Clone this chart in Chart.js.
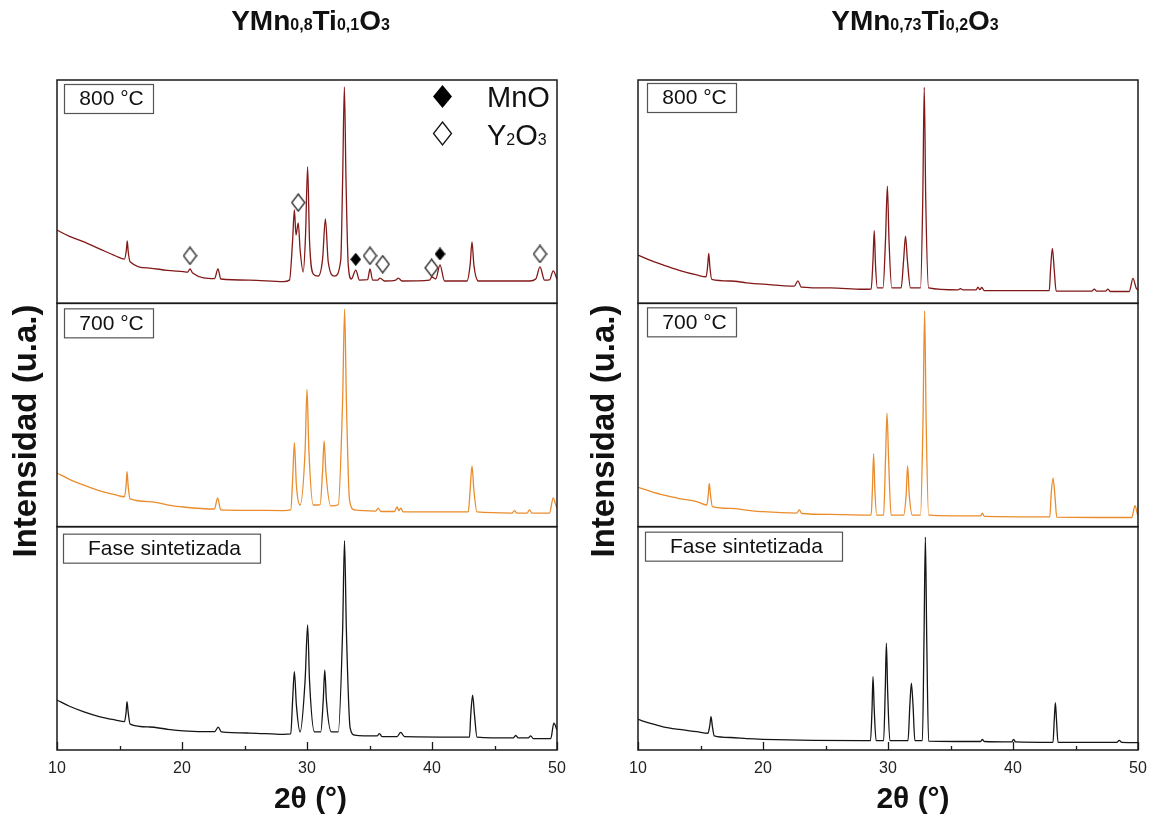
<!DOCTYPE html>
<html><head><meta charset="utf-8">
<script src="https://cdn.jsdelivr.net/npm/chart.js@4.4.1/dist/chart.umd.min.js"></script>
<style>
html,body{margin:0;padding:0;background:#fff;}
#wrap{position:relative;width:1157px;height:820px;overflow:hidden;}
canvas{position:absolute;top:0;}
</style></head><body>
<div id="wrap">
<canvas id="cL" width="580" height="820" style="left:0"></canvas>
<canvas id="cR" width="577" height="820" style="left:580px"></canvas>
</div>
<script>
// ================= DATA =================
const xMajorTicks = [10, 20, 30, 40, 50];
const xMinorTicks = [15, 25, 35, 45];
const panelLabels = ['800 °C', '700 °C', 'Fase sintetizada'];
const legendLabels = ['MnO', 'Y2O3'];
const axisLabelY = 'Intensidad (u.a.)';
const axisLabelX = '2θ (°)';
const titleLeft = [['YMn',0],['0,8',1],['Ti',0],['0,1',1],['O',0],['3',1]];
const titleRight = [['YMn',0],['0,73',1],['Ti',0],['0,2',1],['O',0],['3',1]];

// Left column: YMn0,8Ti0,1O3 — 800 °C
const A800_x = [10,11,12.1,13.4,14.7,15.4,15.55,15.62,15.7,15.85,17.4,18.8,20.1,20.45,20.64,20.85,22.6,22.88,23.1,25.4,28.1,28.6,28.85,28.99,29.12,29.3,29.45,29.7,29.88,30.05,30.2,30.5,30.9,31.25,31.47,31.7,32.2,32.7,32.85,32.99,33.12,33.3,33.55,33.9,34.2,34.85,35.04,35.25,35.65,35.84,36.2,37.1,37.3,37.6,39.8,40.0,40.3,40.64,41.0,42.8,43.05,43.2,43.35,43.7,47.8,48.3,48.64,49.0,49.4,49.7,50];
const A800_y = [32.8,30.0,27.6,24.4,21.2,19.8,23.9,27.9,23.0,18.6,15.8,14.8,14.2,14.0,15.4,13.6,11.1,15.4,10.9,10.4,9.7,10.4,28.3,41.8,30.6,36.0,23.9,14.0,30.0,61.1,28.3,13.1,12.2,20.0,37.8,18.5,12.2,19.4,55.2,96.9,55.2,17.2,10.9,14.9,10.4,10.6,15.4,10.4,10.4,11.3,10.0,10.4,11.3,10.0,10.4,11.8,10.9,17.2,10.0,10.0,17.2,27.5,17.2,10.0,10.0,10.9,16.3,10.4,10.5,14.5,10.9];
// 700 °C
const A700_x = [10,11,12.1,13.3,14.7,15.4,15.53,15.6,15.7,15.85,17.4,18.8,20.1,22.6,22.85,23.1,25.4,28.1,28.7,28.85,28.99,29.15,29.45,29.85,30.0,30.15,30.5,31.05,31.25,31.37,31.5,31.9,32.5,32.85,33.01,33.15,33.4,33.8,35.5,35.7,35.9,37.0,37.2,37.35,37.5,37.7,42.9,43.05,43.2,43.35,43.6,46.4,46.6,46.8,47.6,47.8,48.0,49.4,49.7,49.9,50];
const A700_y = [24.0,21.2,18.7,16.3,14.2,13.4,18.7,24.6,17.8,12.4,11.2,9.8,8.8,7.9,12.9,7.5,7.3,7.2,7.5,20.9,37.6,18.7,9.7,34.3,61.5,34.3,9.7,9.8,25.4,38.4,25.4,9.3,9.8,56.7,97.4,56.7,12.0,7.5,7.0,8.3,6.8,6.8,8.8,7.2,8.3,6.6,6.6,16.4,27.2,16.4,6.6,6.1,7.2,6.1,6.1,7.5,6.1,6.1,12.9,9.7,8.4];
// Fase sintetizada
const AS_x = [10,11,12.1,13.3,14.7,15.4,15.53,15.6,15.7,15.85,17.4,18.8,20.1,22.6,22.9,23.15,25.4,28.1,28.7,28.85,28.99,29.15,29.45,29.85,30.05,30.2,30.6,31.1,31.3,31.42,31.55,31.95,32.5,32.85,33.0,33.15,33.45,33.8,35.6,35.8,36.0,37.2,37.5,37.8,43.0,43.1,43.25,43.4,43.6,46.5,46.7,46.9,47.7,47.9,48.1,49.5,49.75,50];
const AS_y = [22.4,19.6,17.2,15.1,13.4,12.7,17.0,21.6,16.6,11.6,10.3,9.3,8.6,8.2,10.2,8.1,7.6,7.0,7.2,22.4,35.1,20.2,8.1,31.3,56.0,31.3,8.1,8.1,22.4,35.8,22.4,8.1,8.1,53.7,93.7,53.7,9.9,6.7,6.3,7.3,6.0,6.0,7.9,6.0,5.8,15.7,24.6,15.7,5.8,5.4,6.5,5.4,5.4,6.3,5.1,5.1,12.0,9.0];

// Right column: YMn0,73Ti0,2O3 — 800 °C
const B800_x = [10,11,12.0,13.3,14.7,15.45,15.58,15.66,15.75,15.9,17.4,18.7,20.0,22.5,22.8,23.05,25.4,28.0,28.65,28.8,28.9,29.0,29.15,29.6,29.8,29.95,30.08,30.3,31.05,31.25,31.4,31.55,31.8,32.6,32.78,32.9,33.02,33.25,35.6,35.8,36.0,37.05,37.2,37.35,37.5,37.7,42.9,43.0,43.15,43.3,43.45,46.3,46.5,46.7,47.4,47.6,47.8,49.3,49.6,49.85,50];
const B800_y = [21.6,19.2,17.2,14.8,12.7,11.9,17.2,22.4,16.3,10.7,10.0,9.2,8.6,7.7,10.1,7.3,6.9,6.3,6.4,19.4,32.5,17.2,6.9,6.9,28.3,52.5,28.3,6.9,6.9,19.4,30.1,19.4,6.9,6.9,46.3,96.7,46.3,6.9,6.0,6.6,6.0,6.0,7.2,6.1,7.1,5.7,5.7,14.9,24.6,14.9,5.5,5.5,6.4,5.5,5.5,6.4,5.3,5.3,11.2,6.9,6.0];
// 700 °C
const B700_x = [10,11,12.0,13.3,14.7,15.5,15.62,15.7,15.8,15.95,17.4,18.7,20.0,22.7,22.9,23.1,25.4,28.0,28.65,28.75,28.85,28.95,29.1,29.65,29.8,29.92,30.05,30.25,31.25,31.45,31.57,31.7,31.95,32.6,32.8,32.93,33.05,33.25,37.4,37.55,37.7,42.95,43.05,43.2,43.35,43.5,49.5,49.76,49.95,50];
const B700_y = [17.6,15.8,14.2,12.6,11.2,9.7,14.2,19.4,14.2,9.0,8.2,7.4,6.7,6.1,7.5,5.9,5.5,5.2,5.2,16.4,32.6,16.4,5.2,5.2,29.9,50.8,29.9,5.2,5.2,14.2,27.2,14.2,5.2,5.2,47.8,96.6,47.8,5.2,4.8,6.0,4.6,4.4,14.2,21.7,14.2,4.3,4.1,9.4,5.7,4.8];
// Fase sintetizada
const BS_x = [10,11,12.0,13.3,14.7,15.6,15.75,15.84,15.95,16.1,17.4,18.7,20.0,24.0,28.0,28.6,28.72,28.8,28.9,29.05,29.65,29.78,29.87,29.97,30.15,31.6,31.75,31.87,32.0,32.15,32.75,32.88,32.99,33.1,33.25,37.4,37.55,37.7,39.9,40.05,40.2,43.2,43.3,43.39,43.48,43.6,48.3,48.5,48.7,50];
const BS_y = [13.7,11.9,10.4,9.2,8.2,7.5,11.2,14.9,10.6,6.3,5.6,5.1,4.8,4.3,4.2,4.2,17.9,32.8,17.9,4.2,4.2,26.9,47.8,26.9,4.2,4.2,20.2,29.9,20.2,4.2,4.2,49.3,95.3,49.3,4.0,3.8,4.7,3.8,3.6,4.8,3.6,3.4,13.4,21.2,13.4,3.4,3.4,4.3,3.4,3.3];

// Phase markers on left 800 °C pattern
const Y2O3_x = [20.64, 29.3, 35.04, 36.06, 39.97, 48.64];
const Y2O3_y = [21.3, 45.1, 21.3, 17.5, 15.9, 22.1];
const MnO_x = [33.9, 40.64];
const MnO_y = [19.7, 22.1];

// ================= RENDERING =================
const FONT = "'Liberation Sans', Arial, Helvetica, sans-serif";
const C800 = '#821818', C700 = '#ea8c2c', CS = '#151515';

function xy(xs, ys) { return xs.map((x, i) => ({x: x, y: ys[i]})); }

function diamondCanvas(w, h, fill, stroke) {
  const c = document.createElement('canvas');
  c.width = w; c.height = h;
  const g = c.getContext('2d');
  g.beginPath();
  g.moveTo(w / 2, 1); g.lineTo(w - 1, h / 2); g.lineTo(w / 2, h - 1); g.lineTo(1, h / 2); g.closePath();
  g.fillStyle = fill; g.fill();
  g.lineWidth = 1.4; g.strokeStyle = stroke; g.stroke();
  return c;
}
function diamondPath(ctx, cx, cy, hw, hh) {
  ctx.beginPath();
  ctx.moveTo(cx, cy - hh); ctx.lineTo(cx + hw, cy); ctx.lineTo(cx, cy + hh); ctx.lineTo(cx - hw, cy); ctx.closePath();
}
function richText(ctx, parts, x, y, align, big, small) {
  let w = 0;
  parts.forEach(p => { ctx.font = p[1] ? small : big; w += ctx.measureText(p[0]).width; });
  let cx = align === 'center' ? x - w / 2 : x;
  ctx.textAlign = 'left'; ctx.textBaseline = 'alphabetic';
  parts.forEach(p => { ctx.font = p[1] ? small : big; ctx.fillText(p[0], cx, y); cx += ctx.measureText(p[0]).width; });
}

function decorPlugin(cfg) {
  return {
    id: 'decor',
    afterDatasetsDraw(chart) {
      const ctx = chart.ctx;
      const ca = chart.chartArea;
      ctx.save();
      ctx.strokeStyle = '#1a1a1a'; ctx.lineWidth = 1.5;
      ['y8', 'y7', 'ys'].forEach(id => {
        const s = chart.scales[id];
        ctx.strokeRect(ca.left, s.top, ca.right - ca.left, s.bottom - s.top);
      });
      const xs = chart.scales.x;
      ctx.lineWidth = 1.3;
      ctx.beginPath();
      xMajorTicks.forEach(v => { const p = Math.round(xs.getPixelForValue(v)) + 0.5; ctx.moveTo(p, ca.bottom); ctx.lineTo(p, ca.bottom - 8); });
      xMinorTicks.forEach(v => { const p = Math.round(xs.getPixelForValue(v)) + 0.5; ctx.moveTo(p, ca.bottom); ctx.lineTo(p, ca.bottom - 4); });
      ctx.stroke();
      const ids = ['y8', 'y7', 'ys'];
      ids.forEach((id, i) => {
        const s = chart.scales[id];
        const bw = i === 2 ? 197 : 89;
        const bx = ca.left + cfg.boxDx[i];
        const by = s.top + cfg.boxDy[i];
        ctx.fillStyle = '#fff';
        ctx.fillRect(bx, by, bw, 29);
        ctx.strokeStyle = '#555'; ctx.lineWidth = 1.2;
        ctx.strokeRect(bx + 0.5, by + 0.5, bw, 29);
        ctx.fillStyle = '#111';
        ctx.font = '21px ' + FONT;
        ctx.textAlign = 'center'; ctx.textBaseline = 'middle';
        ctx.fillText(panelLabels[i], bx + bw / 2 + 3, by + 15.5);
      });
      if (cfg.legend) {
        ctx.fillStyle = '#000';
        diamondPath(ctx, 442.5, 96.5, 9.5, 11.5); ctx.fill();
        diamondPath(ctx, 442.5, 133.5, 9, 11.5);
        ctx.fillStyle = '#fff'; ctx.fill();
        ctx.strokeStyle = '#111'; ctx.lineWidth = 1.3; ctx.stroke();
        ctx.fillStyle = '#111';
        ctx.font = '29px ' + FONT; ctx.textAlign = 'left'; ctx.textBaseline = 'alphabetic';
        ctx.fillText(legendLabels[0], 487, 107);
        richText(ctx, [['Y', 0], ['2', 1], ['O', 0], ['3', 1]], 487, 145, 'left', '29px ' + FONT, '16px ' + FONT);
      }
      ctx.fillStyle = '#111';
      richText(ctx, cfg.title, cfg.titleX, 30, 'center', 'bold 28px ' + FONT, 'bold 16px ' + FONT);
      ctx.font = 'bold 30px ' + FONT;
      ctx.textAlign = 'center'; ctx.textBaseline = 'alphabetic';
      ctx.fillText(axisLabelX, cfg.xLabelX, 808);
      ctx.save();
      ctx.translate(cfg.yLabelX, 431);
      ctx.rotate(-Math.PI / 2);
      ctx.font = 'bold 33px ' + FONT;
      ctx.textAlign = 'center'; ctx.textBaseline = 'middle';
      ctx.fillText(axisLabelY, 0, 0);
      ctx.restore();
      ctx.restore();
    }
  };
}

function yScale(weight) {
  return {
    type: 'linear', position: 'left', stack: 'col', stackWeight: 1, weight: weight,
    min: 0, max: 100,
    grid: {display: false, drawTicks: false},
    border: {display: false},
    ticks: {display: false},
    afterFit: s => { s.width = 0; }
  };
}

function lineDs(label, data, axis, color) {
  return {label: label, data: data, yAxisID: axis, borderColor: color, borderWidth: 1.3,
          pointRadius: 0, cubicInterpolationMode: 'monotone', fill: false};
}

function makeChart(id, cfg) {
  const datasets = [
    lineDs(panelLabels[0], cfg.d800, 'y8', C800),
    lineDs(panelLabels[1], cfg.d700, 'y7', C700),
    lineDs(panelLabels[2], cfg.dS, 'ys', CS)
  ];
  if (cfg.legend) {
    datasets.push({label: legendLabels[1], data: xy(Y2O3_x, Y2O3_y), yAxisID: 'y8', showLine: false,
      pointStyle: diamondCanvas(15, 19, '#fff', '#333'), pointRadius: 8, pointHoverRadius: 8});
    datasets.push({label: legendLabels[0], data: xy(MnO_x, MnO_y), yAxisID: 'y8', showLine: false,
      pointStyle: diamondCanvas(11, 13, '#000', '#000'), pointRadius: 8, pointHoverRadius: 8});
  }
  return new Chart(document.getElementById(id), {
    type: 'line',
    data: {datasets: datasets},
    options: {
      responsive: false, animation: false, events: [],
      layout: {padding: {left: cfg.padL, right: cfg.padR, top: 80, bottom: 0}},
      plugins: {legend: {display: false}, tooltip: {enabled: false}, title: {display: false}},
      scales: {
        x: {
          type: 'linear', position: 'bottom', min: 10, max: 50,
          grid: {display: false, drawTicks: false},
          border: {display: false},
          ticks: {stepSize: 10, padding: 9, autoSkip: false, maxRotation: 0, minRotation: 0,
                  color: '#222', font: {family: FONT, size: 16},
                  callback: v => (xMajorTicks.includes(v) ? String(v) : '')},
          afterFit: s => { s.height = 70; }
        },
        ys: yScale(1),
        y7: yScale(2),
        y8: yScale(3)
      }
    },
    plugins: [decorPlugin(cfg)]
  });
}

makeChart('cL', {
  d800: xy(A800_x, A800_y), d700: xy(A700_x, A700_y), dS: xy(AS_x, AS_y),
  padL: 57, padR: 23, legend: true, title: titleLeft, titleX: 310.5, xLabelX: 310.5, yLabelX: 27,
  boxDx: [7, 7, 6], boxDy: [4, 5, 7]
});
makeChart('cR', {
  d800: xy(B800_x, B800_y), d700: xy(B700_x, B700_y), dS: xy(BS_x, BS_y),
  padL: 58, padR: 19, legend: false, title: titleRight, titleX: 335, xLabelX: 333, yLabelX: 25,
  boxDx: [9, 9, 7], boxDy: [3, 4, 5]
});
</script>
</body></html>
